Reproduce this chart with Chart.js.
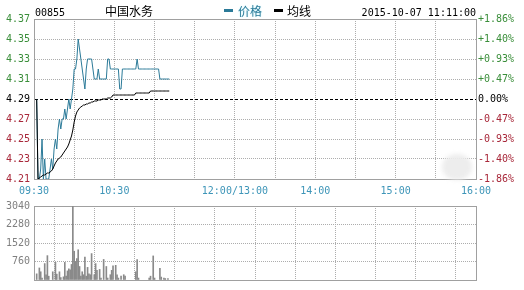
<!DOCTYPE html>
<html>
<head>
<meta charset="utf-8">
<script src="https://cdn.jsdelivr.net/npm/chart.js@4.4.0/dist/chart.umd.min.js"></script>
<style>
  html, body { margin: 0; padding: 0; background: #fff; }
  #wrap { position: relative; width: 524px; height: 290px; overflow: hidden; }
  canvas { position: absolute; left: 0; }
  #priceChart { top: 0; }
  #volChart { top: 196px; }
  .t { position: absolute; white-space: nowrap; line-height: 12px; }
  .mono { font-family: "DejaVu Sans Mono", monospace; font-size: 10px; color: #000; }
  .cjk { font-family: "Noto Sans CJK SC", sans-serif; font-size: 12px; color: #000; }
  .swatch { position: absolute; width: 9px; height: 3px; }
</style>
</head>
<body>
<div id="wrap">
  <canvas id="priceChart" width="524" height="198"></canvas>
  <canvas id="volChart" width="524" height="94"></canvas>
  <span class="t mono" id="code" style="left:35px;top:7px;"></span>
  <span class="t cjk" id="name" style="left:105px;top:5px;"></span>
  <div class="swatch" id="swPrice" style="left:224px;top:9px;"></div>
  <span class="t cjk" id="lgPrice" style="left:238px;top:5px;text-shadow:0 0 2px #bff4ff;"></span>
  <div class="swatch" id="swAvg" style="left:274px;top:9px;"></div>
  <span class="t cjk" id="lgAvg" style="left:287px;top:5px;"></span>
  <span class="t mono" id="stamp" style="right:48px;top:7px;"></span>
</div>
<script>
// ---- quote header ----
const stockCode = '00855';
const stockName = '中国水务';
const quoteTime = '2015-10-07 11:11:00';
const seriesNames = ['价格', '均线'];
const preClose = 4.29;

// ---- time axis (trading minutes, lunch break removed) ----
const gridMinutes = [0, 30, 60, 90, 120, 150, 180, 210, 240, 270, 300, 330];
const timeTickMinutes = [0, 60, 150, 210, 270, 330];
const timeTickLabels = ['09:30', '10:30', '12:00/13:00', '14:00', '15:00', '16:00'];

// ---- price axis ticks ----
const priceTicks = [4.21, 4.23, 4.25, 4.27, 4.29, 4.31, 4.33, 4.35, 4.37];
const volumeTicks = [0, 760, 1520, 2280, 3040];

// ---- minute series, starting at minute 2 ----
const firstMinute = 2;
const prices = [
  4.29, 4.21, 4.21, 4.22, 4.25, 4.21, 4.23, 4.21, 4.21, 4.21,
  4.22, 4.23, 4.22, 4.24, 4.25, 4.24, 4.26, 4.27, 4.26, 4.27,
  4.27, 4.28, 4.27, 4.28, 4.29, 4.28, 4.29, 4.30, 4.32, 4.32,
  4.33, 4.35, 4.34, 4.33, 4.32, 4.31, 4.30, 4.32, 4.33, 4.33,
  4.33, 4.33, 4.32, 4.31, 4.31, 4.31, 4.32, 4.31, 4.31, 4.31,
  4.31, 4.31, 4.31, 4.33, 4.33, 4.32, 4.32, 4.32, 4.32, 4.32,
  4.32, 4.32, 4.30, 4.30, 4.32, 4.32, 4.32, 4.32, 4.32, 4.32,
  4.32, 4.32, 4.32, 4.32, 4.32, 4.33, 4.32, 4.32, 4.32, 4.32,
  4.32, 4.32, 4.32, 4.32, 4.32, 4.32, 4.32, 4.32, 4.32, 4.32,
  4.32, 4.32, 4.31, 4.31, 4.31, 4.31, 4.31, 4.31, 4.31, 4.31
];
const averages = [
  4.290, 4.210, 4.211, 4.212, 4.213, 4.214, 4.214, 4.215, 4.216, 4.216,
  4.217, 4.218, 4.220, 4.223, 4.226, 4.228, 4.230, 4.231, 4.232, 4.234,
  4.236, 4.238, 4.240, 4.242, 4.245, 4.249, 4.253, 4.259, 4.267, 4.273,
  4.277, 4.279, 4.281, 4.282, 4.283, 4.284, 4.284, 4.285, 4.285, 4.286,
  4.286, 4.287, 4.287, 4.288, 4.288, 4.288, 4.289, 4.289, 4.289, 4.290,
  4.290, 4.290, 4.290, 4.291, 4.291, 4.291, 4.292, 4.294, 4.294, 4.294,
  4.294, 4.294, 4.294, 4.294, 4.294, 4.294, 4.294, 4.294, 4.294, 4.294,
  4.294, 4.294, 4.294, 4.294, 4.296, 4.296, 4.296, 4.296, 4.296, 4.296,
  4.296, 4.296, 4.296, 4.296, 4.296, 4.298, 4.298, 4.298, 4.298, 4.298,
  4.298, 4.298, 4.298, 4.298, 4.298, 4.298, 4.298, 4.298, 4.298, 4.298
];

// ---- volume per minute ----
const volumeMinutes = [
  2, 4, 5, 6, 8, 9, 10, 11, 14, 16, 17, 19, 20, 22, 23, 24, 25, 26, 27, 28,
  29, 30, 31, 32, 33, 34, 35, 36, 37, 38, 39, 40, 41, 42, 43, 45, 46, 47, 49, 50,
  52, 54, 55, 57, 58, 59, 61, 62, 63, 65, 67, 68, 76, 77, 78, 86, 87, 89, 90, 94,
  95, 97, 98, 100
];
const volumes = [
  253, 495, 338, 80, 675, 217, 1001, 157, 338, 724, 241, 338, 100, 130, 724, 157, 374, 458, 420, 639,
  3040, 1182, 760, 880, 1242, 555, 157, 338, 217, 940, 157, 518, 250, 217, 1085, 217, 675, 398, 434, 80,
  844, 555, 80, 217, 398, 579, 603, 217, 80, 157, 217, 157, 338, 844, 80, 80, 157, 989, 80, 483,
  120, 80, 60, 60
];

// ---- palette ----
const frameColor = '#a0a0a0';
const gridColor = '#adadad';
const priceColor = '#2b7a98';
const avgColor = '#000000';
const upColor = '#3a8e3a';
const downColor = '#a8283a';
const timeColor = '#3d95b8';
const volColor = '#8a8a8a';
const monoFont = { family: 'DejaVu Sans Mono', size: 10 };

document.getElementById('code').textContent = stockCode;
document.getElementById('name').textContent = stockName;
document.getElementById('lgPrice').textContent = seriesNames[0];
document.getElementById('lgPrice').style.color = priceColor;
document.getElementById('swPrice').style.background = priceColor;
document.getElementById('lgAvg').textContent = seriesNames[1];
document.getElementById('swAvg').style.background = avgColor;
document.getElementById('stamp').textContent = quoteTime;

const near = (a, b) => Math.abs(a - b) < 1e-6;
const pricePts = prices.map((p, i) => ({ x: firstMinute + i, y: p }));
const avgPts = averages.map((p, i) => ({ x: firstMinute + i, y: p }));
const volPts = volumes.map((v, i) => ({ x: volumeMinutes[i], y: v }));

const setTicks = list => scale => { scale.ticks = list.map(v => ({ value: v })); };
const sideColor = v => near(v, preClose) ? '#000' : (v > preClose ? upColor : downColor);

function timeAxis(showLabels, height) {
  return {
    type: 'linear', min: 0, max: 330, offset: false,
    afterBuildTicks: setTicks(gridMinutes),
    afterFit: s => { s.height = height; },
    grid: { drawTicks: false, color: gridColor },
    border: { color: frameColor, dash: ctx => ctx.tick ? [1, 1] : [] },
    ticks: {
      display: showLabels, autoSkip: false, maxRotation: 0, padding: 6,
      color: timeColor, font: monoFont,
      callback: v => { const k = timeTickMinutes.indexOf(v); return k < 0 ? '' : timeTickLabels[k]; }
    }
  };
}

function valueGrid(topValue, dashedValue) {
  return {
    grid: {
      drawTicks: false,
      color: ctx => {
        const v = ctx.tick ? ctx.tick.value : null;
        if (v === null) return gridColor;
        if (dashedValue !== null && near(v, dashedValue)) return '#000';
        if (near(v, topValue)) return frameColor;
        return gridColor;
      }
    },
    border: {
      color: frameColor,
      dash: ctx => {
        if (!ctx.tick) return [];
        const v = ctx.tick.value;
        if (dashedValue !== null && near(v, dashedValue)) return [3, 2];
        if (near(v, topValue)) return [];
        return [1, 1];
      }
    }
  };
}

// soft pale smudge sitting over the lower right corner of the price panel
const smudge = {
  id: 'smudge',
  afterDraw(chart) {
    const { ctx, chartArea } = chart;
    const cx = chartArea.right - 19, cy = chartArea.bottom - 12;
    ctx.save();
    ctx.filter = 'blur(2px)';
    ctx.fillStyle = 'rgba(236,236,236,0.95)';
    ctx.beginPath();
    ctx.ellipse(cx, cy, 15, 13, 0, 0, Math.PI * 2);
    ctx.fill();
    ctx.restore();
  }
};

// ---- intraday price chart ----
new Chart(document.getElementById('priceChart'), {
  type: 'line',
  data: {
    datasets: [
      { label: seriesNames[1], data: avgPts, borderColor: avgColor, borderWidth: 1, pointRadius: 0, tension: 0, order: 0 },
      { label: seriesNames[0], data: pricePts, borderColor: priceColor, borderWidth: 1, pointRadius: 0, tension: 0, order: 1 }
    ]
  },
  options: {
    responsive: false, animation: false, events: [],
    layout: { padding: { top: 19, left: 0, right: 0, bottom: 0 } },
    plugins: { legend: { display: false }, tooltip: { enabled: false } },
    scales: {
      x: timeAxis(true, 19),
      y: Object.assign({
        position: 'left', min: 4.21, max: 4.37,
        afterBuildTicks: setTicks(priceTicks),
        afterFit: s => { s.width = 34; },
        ticks: { padding: 4, font: monoFont, color: ctx => sideColor(ctx.tick.value), callback: v => v.toFixed(2) }
      }, valueGrid(4.37, preClose)),
      y2: {
        position: 'right', min: 4.21, max: 4.37,
        afterBuildTicks: setTicks(priceTicks),
        afterFit: s => { s.width = 48; },
        grid: { drawOnChartArea: false, drawTicks: false },
        border: { color: frameColor },
        ticks: {
          padding: 2, font: monoFont, color: ctx => sideColor(ctx.tick.value),
          callback: v => {
            const pct = (v - preClose) / preClose * 100;
            if (Math.abs(pct) < 0.005) return '0.00%';
            return (pct > 0 ? '+' : '-') + Math.abs(pct).toFixed(2) + '%';
          }
        }
      }
    }
  },
  plugins: [smudge]
});

// ---- volume chart ----
new Chart(document.getElementById('volChart'), {
  type: 'bar',
  data: { datasets: [{ data: volPts, backgroundColor: volColor, borderWidth: 0, barThickness: 1 }] },
  options: {
    responsive: false, animation: false, events: [],
    layout: { padding: { top: 6, left: 0, right: 0, bottom: 4 } },
    plugins: { legend: { display: false }, tooltip: { enabled: false } },
    scales: {
      x: timeAxis(false, 0),
      y: Object.assign({
        position: 'left', min: 0, max: 3040,
        afterBuildTicks: setTicks(volumeTicks),
        afterFit: s => { s.width = 34; },
        ticks: { padding: 4, font: monoFont, color: '#808080', callback: v => v === 0 ? '' : String(v) }
      }, valueGrid(3040, null)),
      y2: {
        position: 'right', min: 0, max: 3040,
        afterFit: s => { s.width = 48; },
        grid: { drawOnChartArea: false, drawTicks: false },
        border: { color: frameColor },
        ticks: { display: false }
      }
    }
  }
});
</script>
</body>
</html>
